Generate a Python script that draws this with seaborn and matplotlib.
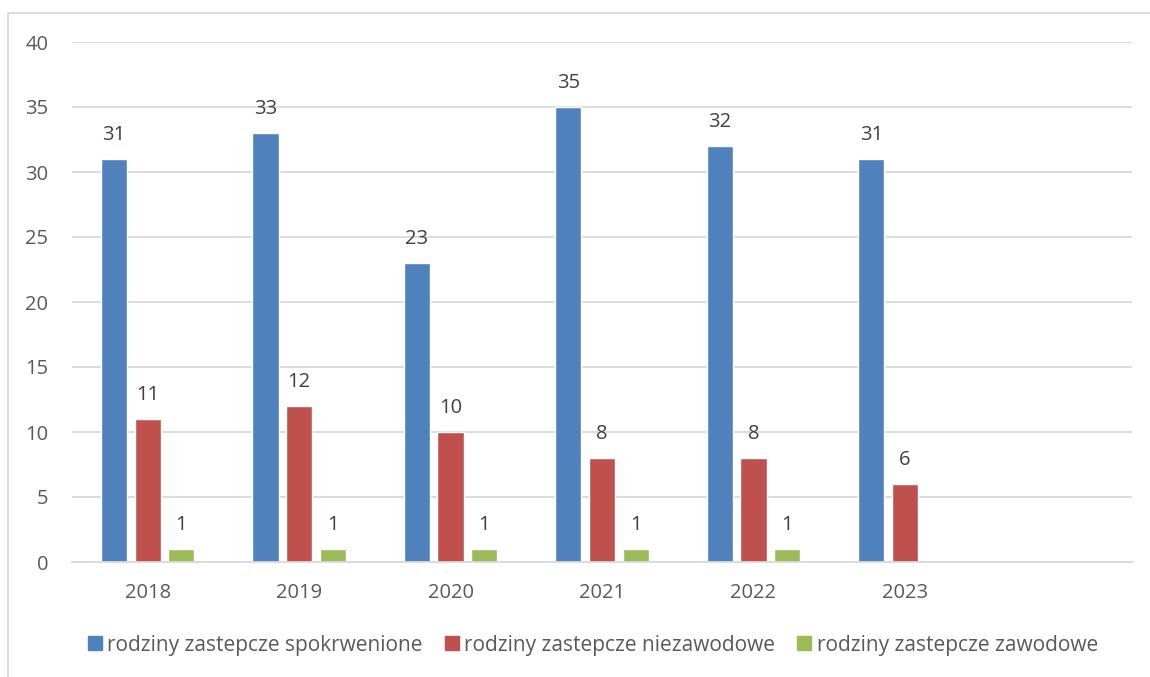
import pandas as pd
import matplotlib.pyplot as plt
import seaborn as sns
from matplotlib.lines import Line2D

years = ['2018', '2019', '2020', '2021', '2022', '2023']
series = ['rodziny zastepcze spokrwenione', 'rodziny zastepcze niezawodowe', 'rodziny zastepcze zawodowe']
spokrwenione = [31, 33, 23, 35, 32, 31]
niezawodowe = [11, 12, 10, 8, 8, 6]
zawodowe = [1, 1, 1, 1, 1, None]
colors = ['#4F81BD', '#C0504D', '#9BBB59']

rows = []
for vals, name in zip([spokrwenione, niezawodowe, zawodowe], series):
    for y, v in zip(years, vals):
        if v is not None:
            rows.append({'rok': y, 'seria': name, 'liczba': v})
df = pd.DataFrame(rows)

sns.set_style('white')
plt.rcParams['font.family'] = ['Open Sans', 'DejaVu Sans']

fig = plt.figure(figsize=(11.5, 6.77), dpi=100)
ax = fig.add_axes([72 / 1150, 115 / 677, 1060 / 1150, 520 / 677])

sns.barplot(data=df, x='rok', y='liczba', hue='seria', order=years, hue_order=series,
            palette=colors, width=0.666, gap=0.22, saturation=1, ax=ax, legend=False)

for cont in ax.containers:
    labels = [f'{int(v)}' for v in cont.datavalues]
    ax.bar_label(cont, labels=labels, padding=10, fontsize=14.5, color='#404040')

ax.set_xlim(-0.5, 6.5)
ax.set_ylim(0, 40)
ax.set_yticks(range(0, 41, 5))
ax.grid(axis='y', color='#D9D9D9', linewidth=1.3)
ax.set_axisbelow(True)
for s in ['top', 'right', 'left']:
    ax.spines[s].set_visible(False)
ax.spines['bottom'].set_color('#D9D9D9')
ax.spines['bottom'].set_linewidth(1.3)
ax.tick_params(axis='both', length=0, labelsize=14.5, labelcolor='#595959')
ax.tick_params(axis='x', pad=15)
ax.tick_params(axis='y', pad=17)
ax.set_xlabel('')
ax.set_ylabel('')

handles = [Line2D([], [], marker='s', linestyle='', markersize=10, color=c) for c in colors]
fig.legend(handles, series, loc='center', bbox_to_anchor=(588 / 1150, 1 - 645 / 677),
           ncol=3, frameon=False, fontsize=15, handletextpad=-0.2, columnspacing=0.6,
           handlelength=1.6, labelcolor='#595959')

# outer chart frame
fig.add_artist(Line2D([8 / 1150, 1], [1 - 13 / 677, 1 - 13 / 677], color='#D9D9D9', lw=1.3))
fig.add_artist(Line2D([8 / 1150, 8 / 1150], [0, 1 - 13 / 677], color='#D9D9D9', lw=1.3))

fig.savefig('out.png', dpi=100)
